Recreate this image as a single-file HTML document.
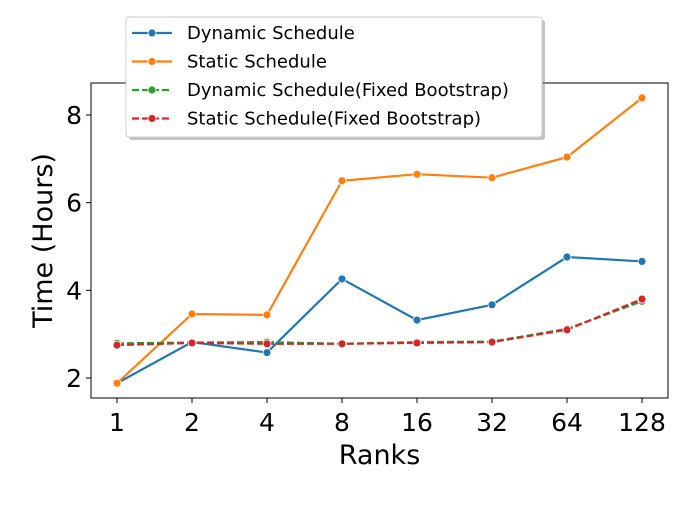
<!DOCTYPE html>
<html><head><meta charset="utf-8"><style>
body{margin:0;background:#fff;}
svg{font-family:"DejaVu Sans","Liberation Sans",sans-serif;}
</style></head><body>
<svg id="chart" width="700" height="500"></svg>
<script>
const categories=["1","2","4","8","16","32","64","128"];
const dynamicSchedule=[1.88,2.82,2.58,4.26,3.32,3.67,4.76,4.66];
const staticSchedule=[1.88,3.46,3.44,6.50,6.65,6.57,7.04,8.39];
const dynamicFixed=[2.79,2.81,2.82,2.78,2.82,2.83,3.12,3.75];
const staticFixed=[2.75,2.80,2.78,2.78,2.80,2.82,3.10,3.80];
const yTicks=[2,4,6,8];
const seriesNames=["Dynamic Schedule","Static Schedule","Dynamic Schedule(Fixed Bootstrap)","Static Schedule(Fixed Bootstrap)"];
const NS="http://www.w3.org/2000/svg";
const svg=document.getElementById('chart');
const L=91,R=668,T=83,B=398;
function x(i){return 117+i*(642-117)/(categories.length-1);}
function y(v){return 378-(v-2)*(378-115)/6;}
function mk(tag,attrs,parent){const e=document.createElementNS(NS,tag);for(const k in attrs)e.setAttribute(k,attrs[k]);(parent||svg).appendChild(e);return e;}
const frame=mk('rect',{x:L,y:T,width:R-L,height:B-T,fill:'none',stroke:'#000','stroke-width':1});


yTicks.forEach(v=>{
 const t=mk('line',{x1:L-5,x2:L,y1:y(v),y2:y(v),stroke:'#000'});
 
 
 const lb=mk('text',{x:L-9,y:y(v)+9,'text-anchor':'end','font-size':25});
 lb.textContent=v;
 
 
});
categories.forEach((c,i)=>{
 const t=mk('line',{x1:x(i),x2:x(i),y1:B,y2:B+5,stroke:'#000'});
 
 
 const lb=mk('text',{x:x(i),y:B+33,'text-anchor':'middle','font-size':25});
 lb.textContent=c;
 
 
});
const xt=mk('text',{x:(L+R)/2,y:464,'text-anchor':'middle','font-size':27});
xt.textContent='Ranks';


const yt=mk('text',{x:0,y:0,'text-anchor':'middle','font-size':27,transform:'translate(52,'+((T+B)/2)+') rotate(-90)'});
yt.textContent='Time (Hours)';


const series=[[dynamicSchedule,'#1f77b4',''],[staticSchedule,'#ff7f0e',''],[dynamicFixed,'#2ca02c','7,3'],[staticFixed,'#d62728','7,3']];
series.forEach((s,si)=>{
 const g=mk('g',{});
 
 
 const p=mk('polyline',{points:s[0].map((v,i)=>x(i)+','+y(v)).join(' '),fill:'none',stroke:s[1],'stroke-width':2.2,'stroke-dasharray':s[2]},g);
 
 
 s[0].forEach((v,i)=>{
  const c=mk('circle',{cx:x(i),cy:y(v),r:4,fill:s[1],stroke:'#fff','stroke-width':0.8},g);
  
  
 });
});
const lg=mk('g',{});


mk('rect',{x:129,y:20,width:416,height:120,rx:3,fill:'#888',opacity:0.5},lg);
mk('rect',{x:126,y:17,width:416,height:120,rx:3,fill:'#fff',stroke:'#ccc'},lg);
series.forEach((s,si)=>{
 const yy=33+si*28.5;
 const e=mk('g',{},lg);
 
 
 mk('line',{x1:132,x2:172,y1:yy,y2:yy,stroke:s[1],'stroke-width':2.2,'stroke-dasharray':s[2]},e);
 mk('circle',{cx:152,cy:yy,r:4,fill:s[1],stroke:'#fff','stroke-width':0.8},e);
 const t=mk('text',{x:187,y:yy+6,'font-size':18},e);
 t.textContent=seriesNames[si];
});
</script>
</body></html>
